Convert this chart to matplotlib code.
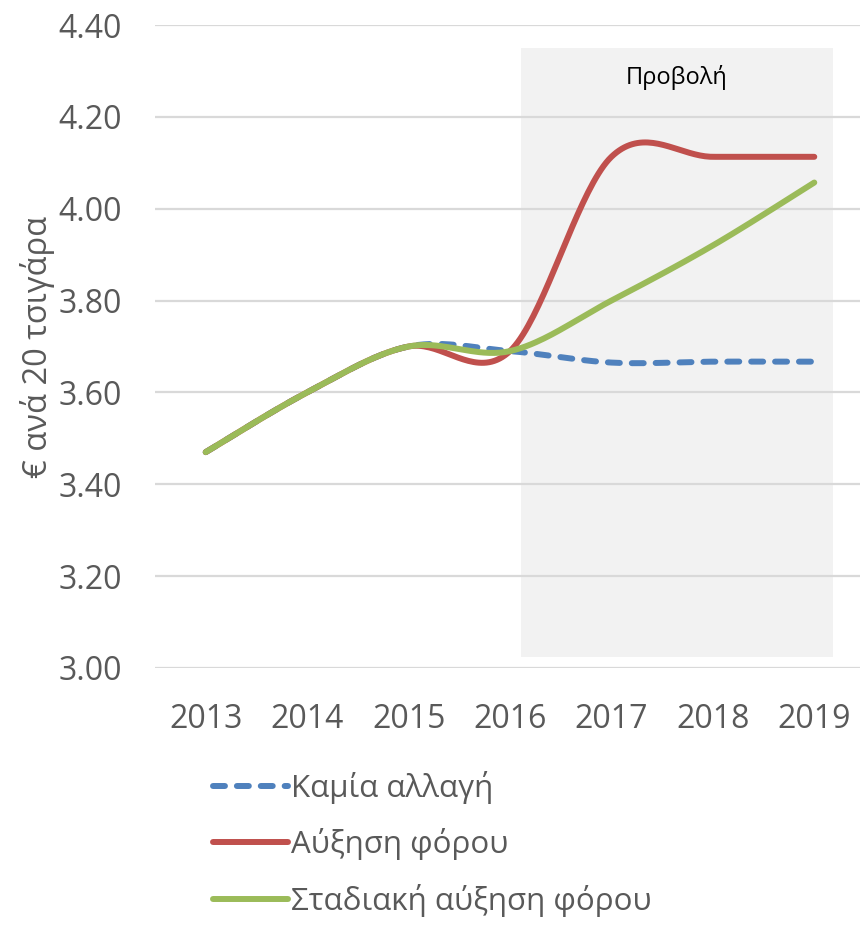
import numpy as np
import matplotlib
matplotlib.use("Agg")
import matplotlib.pyplot as plt
from matplotlib.patches import Rectangle

plt.rcParams['font.family'] = ['Open Sans', 'DejaVu Sans']

years = ['2013', '2014', '2015', '2016', '2017', '2018', '2019']
no_change = [3.47, 3.60, 3.70, 3.69, 3.665, 3.667, 3.667]
tax_rise = [3.47, 3.60, 3.70, 3.69, 4.113, 4.113, 4.113]
gradual_rise = [3.47, 3.60, 3.70, 3.69, 3.80, 3.92, 4.057]

series_names = ['Καμία αλλαγή', 'Αύξηση φόρου', 'Σταδιακή αύξηση φόρου']
series_colors = ['#4f81bd', '#c0504d', '#9bbb59']
y_ticks = [3.00, 3.20, 3.40, 3.60, 3.80, 4.00, 4.20, 4.40]
projection_label = 'Προβολή'
y_label = '€ ανά 20 τσιγάρα'


def smooth(xs, ys, n=40):
    """Cardinal-spline smoothing through every point (cubic Bezier segments)."""
    xs = np.asarray(xs, float)
    ys = np.asarray(ys, float)
    px, py = [], []
    m = len(xs)
    for i in range(m - 1):
        x0, y0 = xs[i], ys[i]
        x3, y3 = xs[i + 1], ys[i + 1]
        xa, ya = (xs[i - 1], ys[i - 1]) if i > 0 else (x0, y0)
        xb, yb = (xs[i + 2], ys[i + 2]) if i + 2 < m else (x3, y3)
        x1 = x0 + (x3 - xa) / 6
        y1 = y0 + (y3 - ya) / 6
        x2 = x3 - (xb - x0) / 6
        y2 = y3 - (yb - y0) / 6
        t = np.linspace(0, 1, n)
        bx = (1 - t) ** 3 * x0 + 3 * (1 - t) ** 2 * t * x1 + 3 * (1 - t) * t ** 2 * x2 + t ** 3 * x3
        by = (1 - t) ** 3 * y0 + 3 * (1 - t) ** 2 * t * y1 + 3 * (1 - t) * t ** 2 * y2 + t ** 3 * y3
        px.extend(bx)
        py.extend(by)
    return np.array(px), np.array(py)


fig = plt.figure(figsize=(8.6, 9.25), dpi=100)
ax = fig.add_axes([155 / 860, 1 - 668 / 925, 710 / 860, (668 - 25) / 925])

x = np.arange(len(years))
ax.set_xlim(-0.5, len(years) - 0.5)
ax.set_ylim(3.0, 4.4)

# shaded projection period
ax.add_patch(Rectangle((3.11, 3.024), 3.07, 1.327, facecolor='#f2f2f2',
                       edgecolor='none', zorder=0.2))
ax.text(4.64, 4.285, projection_label, ha='center', va='center', fontsize=17,
        color='black', zorder=3)

ax.set_yticks(y_ticks)
ax.set_yticklabels([f'{v:.2f}' for v in y_ticks])
ax.set_xticks(x)
ax.set_xticklabels(years)
ax.yaxis.grid(True, color='#d9d9d9', linewidth=1.6, zorder=0.5)
ax.set_axisbelow(True)
for s in ax.spines.values():
    s.set_visible(False)
ax.tick_params(length=0, labelsize=23, labelcolor='#595959')
ax.tick_params(axis='x', pad=25)
ax.tick_params(axis='y', pad=24)
ax.set_ylabel(y_label, fontsize=23.5, color='#595959', labelpad=2)

lines = []
for vals, name, col, ls in zip([no_change, tax_rise, gradual_rise], series_names,
                               series_colors, ['dash', 'solid', 'solid']):
    sx, sy = smooth(x, vals)
    if ls == 'dash':
        ln, = ax.plot(sx, sy, color=col, linewidth=4.3, dashes=(2, 2),
                      dash_capstyle='round', label=name, zorder=3)
    else:
        ln, = ax.plot(sx, sy, color=col, linewidth=4.3, solid_capstyle='round',
                      label=name, zorder=3)
    lines.append(ln)

leg = fig.legend(handles=lines, loc='upper left', bbox_to_anchor=(200 / 860, 1 - 758 / 925),
                 frameon=False, fontsize=22.5, handlelength=2.4, handletextpad=0.1,
                 labelspacing=0.78, borderaxespad=0)
for t in leg.get_texts():
    t.set_color('#595959')

fig.savefig('out.png', dpi=100)
